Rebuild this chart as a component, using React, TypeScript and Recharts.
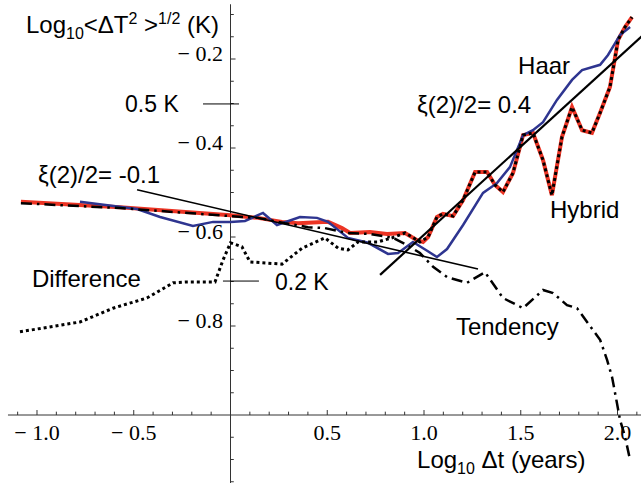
import React from 'react';
import { LineChart, Line, XAxis, YAxis, ReferenceLine, ReferenceDot } from 'recharts';

// Log10 dt (years) vs Log10 <dT^2>^(1/2) (K)
const hybrid = [
  { x: -1.083, y: -0.521 }, { x: -0.571, y: -0.533 }, { x: 0.0, y: -0.551 }, { x: 0.142, y: -0.557 },
  { x: 0.266, y: -0.566 }, { x: 0.349, y: -0.569 }, { x: 0.504, y: -0.566 }, { x: 0.576, y: -0.58 },
  { x: 0.618, y: -0.591 }, { x: 0.721, y: -0.589 }, { x: 0.809, y: -0.593 }, { x: 0.902, y: -0.591 },
  { x: 0.964, y: -0.607 }, { x: 0.995, y: -0.611 }, { x: 1.021, y: -0.6 }, { x: 1.067, y: -0.555 },
  { x: 1.098, y: -0.548 }, { x: 1.15, y: -0.553 }, { x: 1.202, y: -0.517 }, { x: 1.264, y: -0.454 },
  { x: 1.326, y: -0.454 }, { x: 1.367, y: -0.483 }, { x: 1.408, y: -0.499 }, { x: 1.46, y: -0.456 },
  { x: 1.512, y: -0.371 }, { x: 1.563, y: -0.366 }, { x: 1.615, y: -0.427 }, { x: 1.661, y: -0.506 },
  { x: 1.713, y: -0.375 }, { x: 1.765, y: -0.308 }, { x: 1.817, y: -0.36 }, { x: 1.868, y: -0.366 },
  { x: 1.91, y: -0.321 }, { x: 1.961, y: -0.263 }, { x: 2.003, y: -0.157 }, { x: 2.039, y: -0.128 },
  { x: 2.075, y: -0.106 },
];

const haar = [
  { x: -0.778, y: -0.521 }, { x: -0.483, y: -0.537 }, { x: -0.364, y: -0.555 }, { x: -0.194, y: -0.575 },
  { x: -0.09, y: -0.566 }, { x: 0.0, y: -0.566 }, { x: 0.075, y: -0.564 }, { x: 0.168, y: -0.546 },
  { x: 0.24, y: -0.573 }, { x: 0.359, y: -0.555 }, { x: 0.447, y: -0.557 }, { x: 0.504, y: -0.566 },
  { x: 0.607, y: -0.602 }, { x: 0.711, y: -0.613 }, { x: 0.814, y: -0.638 }, { x: 0.866, y: -0.636 },
  { x: 0.943, y: -0.611 }, { x: 1.016, y: -0.631 }, { x: 1.067, y: -0.645 }, { x: 1.119, y: -0.627 },
  { x: 1.202, y: -0.573 }, { x: 1.305, y: -0.501 }, { x: 1.377, y: -0.479 }, { x: 1.444, y: -0.443 },
  { x: 1.512, y: -0.371 }, { x: 1.563, y: -0.36 }, { x: 1.615, y: -0.342 }, { x: 1.687, y: -0.292 },
  { x: 1.765, y: -0.247 }, { x: 1.817, y: -0.225 }, { x: 1.91, y: -0.213 }, { x: 1.951, y: -0.191 },
  { x: 2.013, y: -0.146 }, { x: 2.065, y: -0.128 },
];

const tendency = [
  { x: -1.083, y: -0.524 }, { x: -0.571, y: -0.535 }, { x: 0.0, y: -0.553 }, { x: 0.142, y: -0.557 },
  { x: 0.282, y: -0.569 }, { x: 0.401, y: -0.578 }, { x: 0.488, y: -0.58 }, { x: 0.607, y: -0.591 },
  { x: 0.721, y: -0.593 }, { x: 0.84, y: -0.602 }, { x: 0.912, y: -0.618 }, { x: 0.979, y: -0.636 },
  { x: 1.047, y: -0.667 }, { x: 1.119, y: -0.69 }, { x: 1.222, y: -0.703 }, { x: 1.315, y: -0.679 },
  { x: 1.408, y: -0.737 }, { x: 1.512, y: -0.76 }, { x: 1.615, y: -0.719 }, { x: 1.667, y: -0.726 },
  { x: 1.739, y: -0.753 }, { x: 1.791, y: -0.76 }, { x: 1.873, y: -0.809 }, { x: 1.91, y: -0.831 },
  { x: 1.946, y: -0.876 }, { x: 1.972, y: -0.915 }, { x: 1.997, y: -0.973 }, { x: 2.013, y: -1.011 },
  { x: 2.039, y: -1.049 }, { x: 2.065, y: -1.101 },
];

const difference = [
  { x: -1.088, y: -0.813 }, { x: -0.778, y: -0.791 }, { x: -0.607, y: -0.76 }, { x: -0.432, y: -0.737 },
  { x: -0.297, y: -0.703 }, { x: -0.225, y: -0.701 }, { x: -0.08, y: -0.701 }, { x: -0.039, y: -0.652 },
  { x: 0.0, y: -0.613 }, { x: 0.059, y: -0.622 }, { x: 0.101, y: -0.656 }, { x: 0.266, y: -0.661 },
  { x: 0.37, y: -0.625 }, { x: 0.488, y: -0.602 }, { x: 0.556, y: -0.625 }, { x: 0.607, y: -0.629 },
  { x: 0.659, y: -0.611 }, { x: 0.762, y: -0.611 }, { x: 0.835, y: -0.602 }, { x: 0.902, y: -0.591 },
  { x: 0.938, y: -0.6 }, { x: 0.979, y: -0.611 }, { x: 1.021, y: -0.6 }, { x: 1.067, y: -0.555 },
  { x: 1.098, y: -0.548 }, { x: 1.15, y: -0.553 }, { x: 1.202, y: -0.517 }, { x: 1.264, y: -0.454 },
  { x: 1.326, y: -0.454 }, { x: 1.367, y: -0.483 }, { x: 1.408, y: -0.499 }, { x: 1.46, y: -0.456 },
  { x: 1.512, y: -0.371 }, { x: 1.563, y: -0.366 }, { x: 1.615, y: -0.427 }, { x: 1.661, y: -0.506 },
  { x: 1.713, y: -0.375 }, { x: 1.765, y: -0.308 }, { x: 1.817, y: -0.36 }, { x: 1.868, y: -0.366 },
  { x: 1.91, y: -0.321 }, { x: 1.961, y: -0.263 }, { x: 2.003, y: -0.157 }, { x: 2.039, y: -0.128 },
  { x: 2.075, y: -0.106 },
];

const fitSmallScale = [{ x: -0.483, y: -0.494 }, { x: 1.279, y: -0.672 }];
const fitLargeScale = [{ x: 0.773, y: -0.685 }, { x: 2.13, y: -0.147 }];

const xMajorTicks = [-1.0, -0.5, 0.5, 1.0, 1.5, 2.0];
const xTickLabels = ['\u2212 1.0', '\u2212 0.5', '0.5', '1.0', '1.5', '2.0'];
const xMinorTicks = [-1.1, -0.9, -0.8, -0.7, -0.6, -0.4, -0.3, -0.2, -0.1, 0.1, 0.2, 0.3, 0.4, 0.6, 0.7, 0.8, 0.9,
  1.1, 1.2, 1.3, 1.4, 1.6, 1.7, 1.8, 1.9, 2.1];
const yMajorTicks = [-0.2, -0.4, -0.6, -0.8];
const yTickLabels = ['\u2212 0.2', '\u2212 0.4', '\u2212 0.6', '\u2212 0.8'];
const yMinorTicks = [-0.1, -0.15, -0.25, -0.3, -0.35, -0.45, -0.5, -0.55, -0.65, -0.7, -0.75, -0.85, -0.9, -0.95,
  -1.05, -1.1, -1.15];

// reference levels: 0.5 K and 0.2 K
const levelMarks = [
  { y: -0.301, x1: -0.142, x2: 0.044, label: '0.5 K', lx: -0.545, ly: -0.319 },
  { y: -0.699, x1: -0.039, x2: 0.147, label: '0.2 K', lx: 0.23, ly: -0.719 },
];

const annotations = [
  { text: 'Haar', x: 1.486, y: -0.234 },
  { text: '\u03BE(2)/2= 0.4', x: 0.964, y: -0.321 },
  { text: '\u03BE(2)/2= -0.1', x: -0.995, y: -0.479 },
  { text: 'Hybrid', x: 1.651, y: -0.557 },
  { text: 'Difference', x: -1.026, y: -0.712 },
  { text: 'Tendency', x: 1.165, y: -0.82 },
];

const yTitlePos = { x: -1.057, y: -0.1416 };
const xTitlePos = { x: 0.964, y: -1.119 };

const SANS = 'Liberation Sans, Arial, Helvetica, sans-serif';
const SERIF = 'Liberation Serif, Times New Roman, serif';
const AXIS = '#333';

export default function App() {
  return (
    <div style={{ position: 'absolute', left: 0, top: 0, background: '#fff' }}>
      <LineChart width={641} height={483} margin={{ top: 0, right: 0, bottom: 0, left: 0 }}>
        <XAxis type="number" dataKey="x" domain={[-1.1912, 2.1214]} allowDataOverflow hide />
        <YAxis type="number" dataKey="y" domain={[-1.1528, -0.0674]} allowDataOverflow hide />

        {/* axes */}
        <ReferenceLine segment={[{ x: -1.15, y: -1.0 }, { x: 2.1214, y: -1.0 }]} stroke={AXIS} strokeWidth={1} ifOverflow="visible" />
        <ReferenceLine segment={[{ x: 0, y: -0.077 }, { x: 0, y: -1.1528 }]} stroke={AXIS} strokeWidth={1} ifOverflow="visible" />
        {xMajorTicks.map((t) => (
          <ReferenceLine key={'xM' + t} segment={[{ x: t, y: -1.0 }, { x: t, y: -0.9888 }]} stroke={AXIS} strokeWidth={1} ifOverflow="visible" />
        ))}
        {xMinorTicks.map((t) => (
          <ReferenceLine key={'xm' + t} segment={[{ x: t, y: -1.0 }, { x: t, y: -0.9925 }]} stroke={AXIS} strokeWidth={1} ifOverflow="visible" />
        ))}
        {yMajorTicks.map((t) => (
          <ReferenceLine key={'yM' + t} segment={[{ x: 0, y: t }, { x: 0.026, y: t }]} stroke={AXIS} strokeWidth={1} ifOverflow="visible" />
        ))}
        {yMinorTicks.map((t) => (
          <ReferenceLine key={'ym' + t} segment={[{ x: 0, y: t }, { x: 0.017, y: t }]} stroke={AXIS} strokeWidth={1} ifOverflow="visible" />
        ))}
        {xMajorTicks.map((t, i) => (
          <ReferenceDot key={'xl' + t} x={t} y={-1.0} r={0} ifOverflow="visible"
            shape={(p: any) => (
              <text x={p.cx} y={p.cy + 25} textAnchor="middle" fontFamily={SERIF} fontSize={22} fill="#000">{xTickLabels[i]}</text>
            )} />
        ))}
        {yMajorTicks.map((t, i) => (
          <ReferenceDot key={'yl' + t} x={0} y={t} r={0} ifOverflow="visible"
            shape={(p: any) => (
              <text x={p.cx - 7.5} y={p.cy + 2} textAnchor="end" fontFamily={SERIF} fontSize={22} fill="#000">{yTickLabels[i]}</text>
            )} />
        ))}

        {/* level markers */}
        {levelMarks.map((m) => (
          <ReferenceLine key={'lv' + m.label} segment={[{ x: m.x1, y: m.y }, { x: m.x2, y: m.y }]} stroke="#000" strokeWidth={1} ifOverflow="visible" />
        ))}
        {levelMarks.map((m) => (
          <ReferenceDot key={'lvl' + m.label} x={m.lx} y={m.ly} r={0} ifOverflow="visible"
            shape={(p: any) => (
              <text x={p.cx} y={p.cy} fontFamily={SANS} fontSize={23} fill="#000">{m.label}</text>
            )} />
        ))}

        {/* series */}
        <Line data={hybrid} dataKey="y" type="linear" stroke="#ec3424" strokeWidth={4} dot={false} activeDot={false} isAnimationActive={false} />
        <Line data={haar} dataKey="y" type="linear" stroke="#2e3590" strokeWidth={2.5} dot={false} activeDot={false} isAnimationActive={false} />
        <Line data={tendency} dataKey="y" type="linear" stroke="#000" strokeWidth={2.5} strokeLinecap="butt" strokeDasharray="11 5 2.5 5" dot={false} activeDot={false} isAnimationActive={false} />
        <Line data={difference} dataKey="y" type="linear" stroke="#000" strokeWidth={3} strokeLinecap="butt" strokeDasharray="3 3" dot={false} activeDot={false} isAnimationActive={false} />
        <Line data={fitSmallScale} dataKey="y" type="linear" stroke="#000" strokeWidth={1.6} dot={false} activeDot={false} isAnimationActive={false} />
        <Line data={fitLargeScale} dataKey="y" type="linear" stroke="#000" strokeWidth={2.2} dot={false} activeDot={false} isAnimationActive={false} />

        {/* annotations */}
        {annotations.map((a) => (
          <ReferenceDot key={'an' + a.text} x={a.x} y={a.y} r={0} ifOverflow="visible"
            shape={(p: any) => (
              <text x={p.cx} y={p.cy} fontFamily={SANS} fontSize={24} fill="#000">{a.text}</text>
            )} />
        ))}
        <ReferenceDot x={yTitlePos.x} y={yTitlePos.y} r={0} ifOverflow="visible"
          shape={(p: any) => (
            <text x={p.cx} y={p.cy} fontFamily={SANS} fontSize={24} fill="#000">
              Log<tspan fontSize={16} dy={6}>10</tspan>
              <tspan dy={-6}>{'<\u0394T'}</tspan>
              <tspan fontSize={16} dy={-9}>2</tspan>
              <tspan dy={9}>{' >'}</tspan>
              <tspan fontSize={16} dy={-9}>1/2</tspan>
              <tspan dy={9}>{' (K)'}</tspan>
            </text>
          )} />
        <ReferenceDot x={xTitlePos.x} y={xTitlePos.y} r={0} ifOverflow="visible"
          shape={(p: any) => (
            <text x={p.cx} y={p.cy} fontFamily={SANS} fontSize={24} fill="#000">
              Log<tspan fontSize={16} dy={6}>10</tspan>
              <tspan dy={-6}>{' \u0394t (years)'}</tspan>
            </text>
          )} />
      </LineChart>
    </div>
  );
}
